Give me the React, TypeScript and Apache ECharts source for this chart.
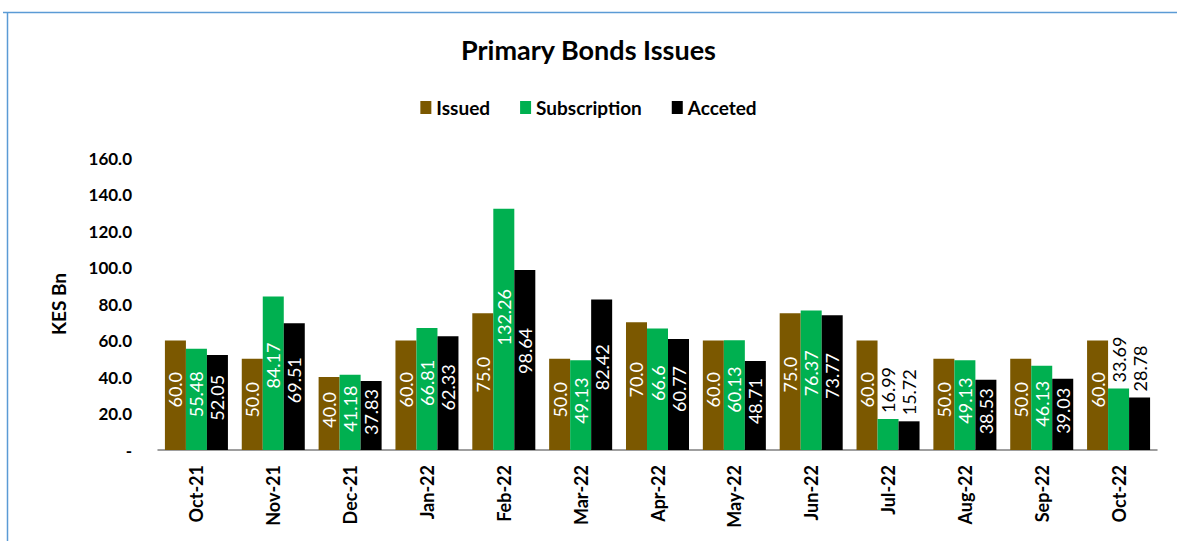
import React, { useEffect, useRef } from "react";
import * as echarts from "echarts";

const categories = ["Oct-21", "Nov-21", "Dec-21", "Jan-22", "Feb-22", "Mar-22", "Apr-22", "May-22", "Jun-22", "Jul-22", "Aug-22", "Sep-22", "Oct-22"];
const issued = [60, 50, 40, 60, 75, 50, 70, 60, 75, 60, 50, 50, 60];
const subscription = [55.48, 84.17, 41.18, 66.81, 132.26, 49.13, 66.6, 60.13, 76.37, 16.99, 49.13, 46.13, 33.69];
const accepted = [52.05, 69.51, 37.83, 62.33, 98.64, 82.42, 60.77, 48.71, 73.77, 15.72, 38.53, 39.03, 28.78];
const yTicks = [0, 20, 40, 60, 80, 100, 120, 140, 160];

const FONT = "Lato";

export default function App() {
  const ref = useRef<HTMLDivElement>(null);
  useEffect(() => {
    if (!ref.current) return;
    const chart = echarts.init(ref.current, null, { renderer: "svg" });
    const insideLabel = (fmt: (v: number) => string) => ({
      show: true,
      position: ["50%", "45%"],
      rotate: 90,
      align: "center",
      verticalAlign: "middle",
      color: "#ffffff",
      fontFamily: FONT,
      fontSize: 18,
      formatter: (p: any) => fmt(p.value),
    });
    const mkData = (vals: number[], fmt: (v: number) => string) =>
      vals.map((v) =>
        v < 36
          ? {
              value: v,
              label: {
                show: true,
                position: "top",
                rotate: 90,
                align: "left",
                verticalAlign: "middle",
                distance: 6,
                color: "#000000",
                fontFamily: FONT,
                fontSize: 18,
                formatter: () => fmt(v),
              },
            }
          : v
      );
    const fmtIssued = (v: number) => v.toFixed(1);
    const fmtRaw = (v: number) => String(v);
    chart.setOption({
      animation: false,
      backgroundColor: "#ffffff",
      title: {
        text: "Primary Bonds Issues",
        left: "center",
        top: 31,
        textStyle: { fontFamily: FONT, fontSize: 27, fontWeight: "bold", color: "#000" },
      },
      legend: {
        top: 93,
        left: "center",
        itemWidth: 11,
        itemHeight: 13,
        itemGap: 30,
        icon: "rect",
        textStyle: { fontFamily: FONT, fontSize: 19, fontWeight: "bold", color: "#000" },
        data: ["Issued", "Subscription", "Acceted"],
      },
      graphic: [
        { type: "line", shape: { x1: 3, y1: 12.5, x2: 1177, y2: 12.5 }, style: { stroke: "#5B9BD5", lineWidth: 1.5 } },
        { type: "line", shape: { x1: 7.5, y1: 12, x2: 7.5, y2: 541 }, style: { stroke: "#5B9BD5", lineWidth: 1.5 } },
      ],
      grid: { left: 158, right: 20, top: 158, bottom: 91, containLabel: false },
      xAxis: {
        type: "category",
        data: categories,
        axisLine: { show: true, lineStyle: { color: "#7f7f7f", width: 1.5 } },
        axisTick: { show: false },
        axisLabel: {
          rotate: 90,
          margin: 15,
          fontFamily: FONT,
          fontSize: 18,
          fontWeight: "bold",
          color: "#000",
          interval: 0,
        },
      },
      yAxis: {
        type: "value",
        min: yTicks[0],
        max: yTicks[yTicks.length - 1],
        interval: 20,
        name: "KES Bn",
        nameLocation: "middle",
        nameGap: 90,
        nameRotate: 90,
        nameTextStyle: { fontFamily: FONT, fontSize: 19, fontWeight: "bold", color: "#000" },
        axisLine: { show: false },
        axisTick: { show: false },
        splitLine: { show: false },
        axisLabel: {
          margin: 26,
          fontFamily: FONT,
          fontSize: 17,
          fontWeight: "bold",
          color: "#000",
          formatter: (v: number) => (v === 0 ? "-" : v.toFixed(1)),
        },
      },
      series: [
        {
          name: "Issued",
          type: "bar",
          data: mkData(issued, fmtIssued),
          itemStyle: { color: "#7B5800" },
          barGap: "0%",
          barCategoryGap: "18%",
          label: insideLabel(fmtIssued),
        },
        {
          name: "Subscription",
          type: "bar",
          data: mkData(subscription, fmtRaw),
          itemStyle: { color: "#00B050" },
          label: insideLabel(fmtRaw),
        },
        {
          name: "Acceted",
          type: "bar",
          data: mkData(accepted, fmtRaw),
          itemStyle: { color: "#000000" },
          label: insideLabel(fmtRaw),
        },
      ],
    });
    return () => chart.dispose();
  }, []);
  return (
    <div
      ref={ref}
      style={{ position: "absolute", left: 0, top: 0, width: 1177, height: 541 }}
    />
  );
}
